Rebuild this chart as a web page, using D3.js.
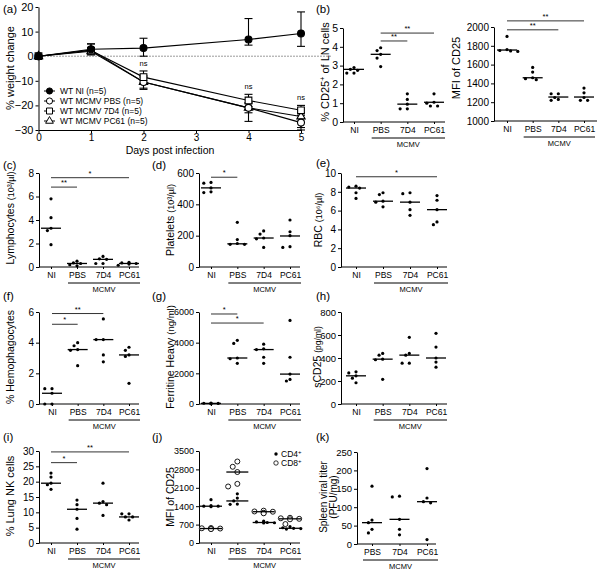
<!DOCTYPE html>
<html><head><meta charset="utf-8">
<script src="https://cdn.jsdelivr.net/npm/d3@7"></script>
<style>body{margin:0;background:#fff} svg{display:block;font-family:"Liberation Sans",Arial,sans-serif}</style>
</head><body><svg id="c" width="600" height="571"></svg>
<script>
// ---------------- DATA ----------------
const groups = ["NI","PBS","7D4","PC61"];
const mcmvGroups = ["PBS","7D4","PC61"];
const days = [0,1,2,4,5];
const dayTicks = [0,1,2,3,4,5];
const weightTicks = [-30,-20,-10,0,10,20];
const weightLabels = ["WT NI (n=5)","WT MCMV PBS (n=5)","WT MCMV 7D4 (n=5)","WT MCMV PC61 (n=5)"];
const weightNI   = [0,2.8,3.3,6.8,9.2];
const weightNIhi = [0,5,7.3,15.3,18];
const weightNIlo = [0,1.5,0,4.5,4];
const weightPBS   = [0,2.5,-10.5,-21,-27];
const weightPBShi = [0,3.5,-8,-19,-25];
const weightPBSlo = [0,1,-13,-23,-29];
const weight7D4   = [0,2.3,-8.5,-18,-22];
const weight7D4hi = [0,5,-6,-15.5,-20];
const weight7D4lo = [0,1,-11,-20.5,-24];
const weightPC61   = [0,2,-10.5,-21,-24.5];
const weightPC61hi = [0,3,-8.5,-19,-23];
const weightPC61lo = [0,0.5,-13.5,-26.5,-30];
const nsDays = [2,4,5];

const lnCD25 = [[2.9,2.8,2.75,2.6,2.6],[3.95,3.8,3.6,3.4,2.95],[1.5,1.2,0.95,0.7,0.7],[1.5,1.05,1.0,0.85,0.85]];
const lnCD25Med = [2.8,3.6,0.95,1.05];
const mfiCD25 = [[1900,1760,1750,1745,1740],[1570,1520,1460,1450,1440],[1290,1290,1250,1230,1220],[1350,1300,1250,1220,1220]];
const mfiCD25Med = [1755,1460,1255,1255];
const lympho = [[5.8,4.2,3.3,3.1,1.9],[0.5,0.35,0.3,0.2,0.1],[0.9,0.7,0.65,0.3,0.3],[0.4,0.35,0.3,0.25,0.15]];
const lymphoMed = [3.3,0.3,0.65,0.3];
const platelets = [[540,535,505,480,475],[285,175,150,145,145],[230,210,185,180,125],[300,225,200,130,125]];
const plateletsMed = [505,148,185,198];
const rbc = [[8.6,8.5,8.4,7.9,7.3],[7.9,7.7,7.0,6.9,6.4],[7.9,7.8,6.9,6.1,5.5],[7.6,7.1,6.1,4.8,4.5]];
const rbcMed = [8.4,7.0,6.9,6.1];
const hemo = [[1.0,1.0,0.7,0.0,0.0],[4.0,3.8,3.55,3.5,2.5],[5.55,4.2,4.2,3.2,2.75],[3.7,3.5,3.2,3.1,1.35]];
const hemoMed = [0.7,3.55,4.2,3.2];
const ferritin = [[60,50,40,30,20],[4150,3950,3000,2950,2650],[3900,3600,3550,3050,2650],[5450,3050,1950,1600,1500]];
const ferritinMed = [40,3000,3550,1950];
const sCD25 = [[280,270,245,225,185],[440,425,390,385,215],[580,440,425,355,355],[615,495,400,365,320]];
const sCD25Med = [245,390,425,400];
const lungNK = [[22.8,21.5,19.5,19.0,17.5],[14,12.5,11,8,4.5],[19.5,13.5,13,12.5,9],[9.5,9.5,8.5,8.5,7.5]];
const lungNKMed = [19.5,11,13,8.5];
const cd4MFI = [[1650,1420,1400,1400,1380],[1870,1710,1600,1480,1470],[830,800,780,770,760],[620,580,560,550,530]];
const cd4MFIMed = [1400,1600,780,560];
const cd8MFI = [[570,560,550,540,530],[3100,2900,2700,2250,2150],[1230,1200,1190,1150,1130],[960,940,920,900,720]];
const cd8MFIMed = [550,2700,1190,920];
const viral = [[157,65,58,40,30],[130,128,67,40,25],[205,125,115,112,12]];
const viralMed = [58,67,115];

const sigLN = [["PBS","PC61","**"],["PBS","7D4","**"]];
const sigMFI = [["NI","PC61","**"],["NI","7D4","**"]];
const sigLympho = [["NI","PC61","*"],["NI","PBS","**"]];
const sigPlatelets = [["NI","PBS","*"]];
const sigRBC = [["NI","PC61","*"]];
const sigHemo = [["NI","7D4","**"],["NI","PBS","*"]];
const sigFerritin = [["NI","PBS","*"],["NI","7D4","*"]];
const sigLungNK = [["NI","PC61","**"],["NI","PBS","*"]];

// ---------------- DRAWING ----------------
const svg = d3.select("#c");
const FONT = "Liberation Sans, Arial, sans-serif";

function txt(x, y, s, size, anchor) {
  return svg.append("text").attr("x", x).attr("y", y).attr("font-size", size)
    .attr("text-anchor", anchor || "start").attr("fill", "#000").text(s);
}
function yTitle(x, yc, parts, size) {
  const t = svg.append("text").attr("transform", `translate(${x},${yc}) rotate(-90)`)
    .attr("text-anchor", "middle").attr("font-size", size).attr("fill", "#000");
  parts.forEach(p => {
    const ts = t.append("tspan").text(p.t);
    if (p.sup) ts.attr("baseline-shift", "super").attr("font-size", size * 0.65);
    if (p.size) ts.attr("font-size", p.size);
  });
}
function styleAxis(a, fs) {
  a.select(".domain").attr("stroke", "#000").attr("stroke-width", 1);
  a.selectAll(".tick line").attr("stroke", "#000");
  a.selectAll("text").attr("font-size", fs).attr("font-family", FONT).attr("fill", "#000");
}

function dodge(vals, y, cx, minD, step) {
  const pts = vals.map(v => ({ v, py: y(v) })).sort((a, b) => a.py - b.py);
  const placed = [];
  const offs = [0, -1, 1, -2, 2, -3, 3];
  pts.forEach(p => {
    p.px = cx;
    for (const k of offs) {
      const px = cx + k * step;
      if (placed.every(q => Math.hypot(q.px - px, q.py - p.py) >= minD)) { p.px = px; break; }
    }
    placed.push(p);
  });
  return pts;
}

function dotPanel(o) {
  const y = d3.scaleLinear().domain(o.domain).range([o.yBot, o.yTop]);
  const x = d3.scalePoint().domain(o.cats).range(o.catRange);
  const g = svg.append("g");
  const ay = g.append("g").attr("transform", `translate(${o.axisX},0)`)
    .call(d3.axisLeft(y).tickValues(o.ticks).tickSize(3).tickSizeOuter(0).tickPadding(2).tickFormat(d3.format("d")));
  styleAxis(ay, o.tickFs || 10);
  g.append("line").attr("x1", o.axisX).attr("x2", o.xEnd).attr("y1", o.yBot).attr("y2", o.yBot)
    .attr("stroke", "#000");
  const ax = g.append("g").attr("transform", `translate(0,${o.yBot})`)
    .call(d3.axisBottom(x).tickSize(2).tickSizeOuter(0).tickPadding(3));
  ax.select(".domain").remove();
  styleAxis(ax, 8.5);
  const x0 = x("PBS") - 9, x1 = x("PC61") + 11;
  g.append("line").attr("x1", x0).attr("x2", x1).attr("y1", o.yBot + 16).attr("y2", o.yBot + 16).attr("stroke", "#000");
  g.append("text").attr("x", (x0 + x1) / 2).attr("y", o.yBot + 25).attr("text-anchor", "middle")
    .attr("font-size", 7.5).attr("fill", "#000").text("MCMV");
  o.series.forEach(s => {
    s.values.forEach((vals, i) => {
      const cx = x(o.cats[i]);
      const pts = dodge(vals, y, cx, s.open ? 5.5 : 3.8, s.open ? 4.6 : 3.6);
      pts.forEach(p => {
        g.append("circle").attr("cx", p.px).attr("cy", p.py).attr("r", s.open ? 2.5 : 1.6)
          .attr("fill", s.open ? "#fff" : "#000").attr("stroke", "#000").attr("stroke-width", s.open ? 0.9 : 0);
      });
    });
    s.medians.forEach((m, i) => {
      const cx = x(o.cats[i]);
      g.append("line").attr("x1", cx - (o.medW || 10)).attr("x2", cx + (o.medW || 10))
        .attr("y1", y(m)).attr("y2", y(m)).attr("stroke", "#000").attr("stroke-width", 1.3);
    });
  });
  (o.sig || []).forEach((s, i) => {
    const yy = y(o.sigLevels[i]);
    g.append("line").attr("x1", x(s[0])).attr("x2", x(s[1])).attr("y1", yy).attr("y2", yy)
      .attr("stroke", "#333").attr("stroke-width", 1);
    g.append("text").attr("x", (x(s[0]) + x(s[1])) / 2).attr("y", yy - 2).attr("text-anchor", "middle")
      .attr("font-size", 7.5).attr("fill", "#000").text(s[2]);
  });
  return { x, y };
}

// ---------- Panel (a) ----------
(function () {
  const xa = d3.scaleLinear().domain([0, 5]).range([38.5, 301]);
  const ya = d3.scaleLinear().domain([-30, 20]).range([130, 7]);
  const ay = svg.append("g").attr("transform", "translate(38.5,0)")
    .call(d3.axisLeft(ya).tickValues(weightTicks).tickSize(3).tickSizeOuter(0).tickPadding(2).tickFormat(d3.format("d")));
  styleAxis(ay, 11);
  const ax = svg.append("g").attr("transform", "translate(0,130)")
    .call(d3.axisBottom(xa).tickValues(dayTicks).tickSize(3).tickSizeOuter(0).tickPadding(1).tickFormat(d3.format("d")));
  styleAxis(ax, 10);
  txt(170, 154, "Days post infection", 10.5, "middle");
  yTitle(14, 68, [{ t: "% weight change" }], 11);
  svg.append("line").attr("x1", xa(0)).attr("x2", xa(5.6)).attr("y1", ya(0)).attr("y2", ya(0))
    .attr("stroke", "#000").attr("stroke-width", 0.8).attr("stroke-dasharray", "1,2");

  const series = [
    { m: weightPC61, hi: weightPC61hi, lo: weightPC61lo, sym: d3.symbolTriangle, size: 30, fill: "#fff" },
    { m: weightPBS, hi: weightPBShi, lo: weightPBSlo, sym: d3.symbolCircle, size: 38, fill: "#fff" },
    { m: weight7D4, hi: weight7D4hi, lo: weight7D4lo, sym: d3.symbolSquare, size: 45, fill: "#fff" },
    { m: weightNI, hi: weightNIhi, lo: weightNIlo, sym: d3.symbolCircle, size: 38, fill: "#000" }
  ];
  const line = d3.line().x((d, i) => xa(days[i])).y(d => ya(d));
  series.forEach(s => {
    svg.append("path").attr("d", line(s.m)).attr("fill", "none").attr("stroke", "#000").attr("stroke-width", 1.1);
    s.m.forEach((v, i) => {
      if (s.hi[i] === s.lo[i]) return;
      const cx = xa(days[i]);
      svg.append("line").attr("x1", cx).attr("x2", cx).attr("y1", ya(s.hi[i])).attr("y2", ya(s.lo[i])).attr("stroke", "#000").attr("stroke-width", 1.1);
      [s.hi[i], s.lo[i]].forEach(e => svg.append("line").attr("x1", cx - 4).attr("x2", cx + 4)
        .attr("y1", ya(e)).attr("y2", ya(e)).attr("stroke", "#000").attr("stroke-width", 1.1));
    });
  });
  series.forEach(s => {
    s.m.forEach((v, i) => {
      svg.append("path").attr("d", d3.symbol(s.sym, s.size)())
        .attr("transform", `translate(${xa(days[i])},${ya(v)})`)
        .attr("fill", s.fill).attr("stroke", "#000").attr("stroke-width", 1.1);
    });
  });
  const nsLevels = [-4, -13.3, -17.8];
  nsDays.forEach((d, i) => txt(xa(d), ya(nsLevels[i]), "ns", 7.5, "middle"));
  const legSyms = [
    { sym: d3.symbolCircle, size: 30, fill: "#000" },
    { sym: d3.symbolCircle, size: 30, fill: "#fff" },
    { sym: d3.symbolSquare, size: 36, fill: "#fff" },
    { sym: d3.symbolTriangle, size: 26, fill: "#fff" }
  ];
  weightLabels.forEach((lab, i) => {
    const yy = 91 + i * 10;
    svg.append("line").attr("x1", 44).attr("x2", 55).attr("y1", yy).attr("y2", yy).attr("stroke", "#000");
    svg.append("path").attr("d", d3.symbol(legSyms[i].sym, legSyms[i].size)())
      .attr("transform", `translate(49.5,${yy})`).attr("fill", legSyms[i].fill).attr("stroke", "#000");
    txt(60, yy + 3, lab, 8.5);
  });
})();

// ---------- Dot panels ----------
dotPanel({ axisX: 343, yTop: 28, yBot: 122, domain: [0, 5], ticks: [0,1,2,3,4,5], cats: groups,
  catRange: [354, 434], xEnd: 445, tickFs: 10.5, series: [{ values: lnCD25, medians: lnCD25Med }],
  sig: sigLN, sigLevels: [4.73, 4.31] });
yTitle(329, 72, [{ t: "% CD25" }, { t: "+", sup: true }, { t: " of LN cells" }], 11);

dotPanel({ axisX: 494, yTop: 27, yBot: 121, domain: [1000, 2000], ticks: [1000,1200,1400,1600,1800,2000], cats: groups,
  catRange: [507, 584], xEnd: 597, tickFs: 10, series: [{ values: mfiCD25, medians: mfiCD25Med }],
  sig: sigMFI, sigLevels: [2065, 1970] });
yTitle(460, 68, [{ t: "MFI of CD25" }], 11);

dotPanel({ axisX: 39, yTop: 173, yBot: 267, domain: [0, 8], ticks: [0,2,4,6,8], cats: groups,
  catRange: [51, 129], xEnd: 139, series: [{ values: lympho, medians: lymphoMed }],
  sig: sigLympho, sigLevels: [7.6, 6.8] });
yTitle(14, 218, [{ t: "Lymphocytes " }, { t: "(10³/µl)", size: 9 }], 10.5);

dotPanel({ axisX: 199, yTop: 173, yBot: 267, domain: [0, 600], ticks: [0,200,400,600], cats: groups,
  catRange: [211, 290], xEnd: 300, series: [{ values: platelets, medians: plateletsMed }],
  sig: sigPlatelets, sigLevels: [573] });
yTitle(174, 220, [{ t: "Platelets " }, { t: "(10³/µl)", size: 9 }], 10.5);

dotPanel({ axisX: 341, yTop: 173, yBot: 267, domain: [0, 10], ticks: [0,2,4,6,8,10], cats: groups,
  catRange: [356, 437], xEnd: 447, series: [{ values: rbc, medians: rbcMed }],
  sig: sigRBC, sigLevels: [9.6] });
yTitle(322, 220, [{ t: "RBC " }, { t: "(10⁶/µl)", size: 9 }], 10.5);

dotPanel({ axisX: 39, yTop: 312, yBot: 404, domain: [0, 6], ticks: [0,2,4,6], cats: groups,
  catRange: [52, 129], xEnd: 139, series: [{ values: hemo, medians: hemoMed }],
  sig: sigHemo, sigLevels: [5.9, 5.2] });
yTitle(14, 357, [{ t: "% Hemophagocytes" }], 10.5);

dotPanel({ axisX: 199, yTop: 312, yBot: 404, domain: [0, 6000], ticks: [0,2000,4000,6000], cats: groups,
  catRange: [211, 290], xEnd: 300, tickFs: 9, series: [{ values: ferritin, medians: ferritinMed }],
  sig: sigFerritin, sigLevels: [5870, 5280] });
yTitle(174, 357, [{ t: "Ferritine Heavy " }, { t: "(ng/ml)", size: 9.5 }], 10.5);

dotPanel({ axisX: 341, yTop: 312, yBot: 404, domain: [0, 800], ticks: [0,200,400,600,800], cats: groups,
  catRange: [356, 436], xEnd: 447, tickFs: 9.5, series: [{ values: sCD25, medians: sCD25Med }] });
yTitle(321, 357, [{ t: "sCD25 " }, { t: "(pg/ml)", size: 8.5 }], 10.5);

dotPanel({ axisX: 39, yTop: 451, yBot: 543, domain: [0, 30], ticks: [0,5,10,15,20,25,30], cats: groups,
  catRange: [51, 129], xEnd: 139, series: [{ values: lungNK, medians: lungNKMed }],
  sig: sigLungNK, sigLevels: [29.7, 26.2] });
yTitle(14, 496, [{ t: "% Lung NK cells" }], 11);

dotPanel({ axisX: 199, yTop: 451, yBot: 543, domain: [0, 3500], ticks: [0,700,1400,2100,2800,3500], cats: groups,
  catRange: [211, 290], xEnd: 300, medW: 11, tickFs: 9,
  series: [{ values: cd4MFI, medians: cd4MFIMed }, { values: cd8MFI, medians: cd8MFIMed, open: true }] });
yTitle(174, 497, [{ t: "MFI of CD25" }], 10.5);
svg.append("circle").attr("cx", 276).attr("cy", 454).attr("r", 1.7).attr("fill", "#000");
svg.append("circle").attr("cx", 276).attr("cy", 463).attr("r", 2.2).attr("fill", "#fff").attr("stroke", "#000").attr("stroke-width", 0.8);
(function () {
  const t1 = txt(281, 457, "CD4", 8.5); t1.append("tspan").attr("baseline-shift", "super").attr("font-size", 6).text("+");
  const t2 = txt(281, 466, "CD8", 8.5); t2.append("tspan").attr("baseline-shift", "super").attr("font-size", 6).text("+");
})();

dotPanel({ axisX: 357, yTop: 452, yBot: 544, domain: [0, 250], ticks: [0,50,100,150,200,250], cats: mcmvGroups,
  catRange: [372, 427], xEnd: 436, tickFs: 9.5, series: [{ values: viral, medians: viralMed }] });
yTitle(327, 497, [{ t: "Spleen viral titer" }], 10);
yTitle(337, 497, [{ t: "(PFU/mg)" }], 10);

// panel letters
[["(a)",3,13],["(b)",316,13],["(c)",3,169],["(d)",152,169],["(e)",316,167],
 ["(f)",3,300],["(g)",152,300],["(h)",316,300],["(i)",3,441],["(j)",152,441],["(k)",316,441]]
  .forEach(p => txt(p[1], p[2], p[0], 11.5));
</script></body></html>
